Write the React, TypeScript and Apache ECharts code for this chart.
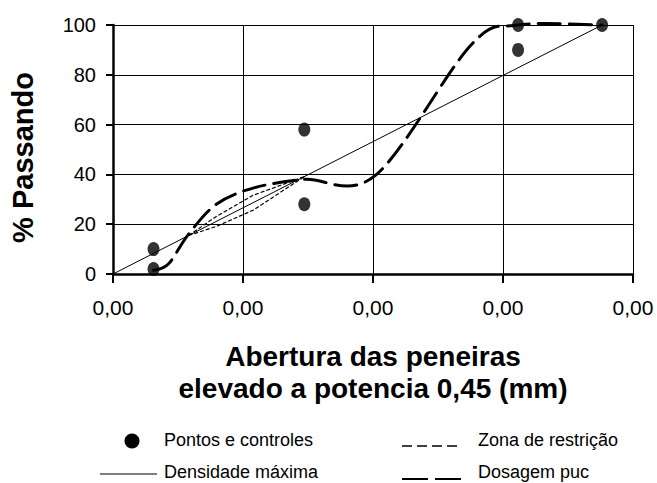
import React, { useEffect, useRef } from "react";
import * as echarts from "echarts";

// Sieve openings (mm) and percent passing; x axis is opening ^ 0.45
const sieveSizes = [0.075, 0.15, 0.3, 0.6, 1.18, 2.36, 4.75, 9.5, 12.5, 19];
const dosagemPuc = [1.5, 4, 16, 28, 34.5, 38, 39.5, 92, 100, 100];

const controlSieves = [0.075, 0.075, 2.36, 2.36, 12.5, 12.5, 19];
const controlValues = [2, 10, 28, 58, 90, 100, 100];

const restrictionSieves = [0.3, 0.6, 1.18, 2.36];
const restrictionUpper = [15.5, 23.1, 31.6, 39.1];
const restrictionLower = [15.5, 19.1, 25.6, 39.1];

const maxDensitySieves = [0, 19];
const maxDensityValues = [0, 100];

const xTickLabels = ["0,00", "0,00", "0,00", "0,00", "0,00"];
const yTickStep = 20;

const EXPONENT = 0.45;
const toX = (s: number) => Math.pow(s, EXPONENT);
const pairs = (sizes: number[], values: number[]) =>
  sizes.map((s, i) => [toX(s), values[i]]);

const FONT = "'Liberation Sans', Arial, sans-serif";

const dosagePoints = pairs(sieveSizes, dosagemPuc);

// Spreadsheet-style smoothed curve: cubic Bezier segments whose control
// points follow the Catmull-Rom tangents, computed in pixel space.
function smoothPath(pts: number[][]): string {
  const n = pts.length;
  let d = `M${pts[0][0]},${pts[0][1]}`;
  for (let i = 0; i < n - 1; i++) {
    const p0 = pts[Math.max(i - 1, 0)];
    const p1 = pts[i];
    const p2 = pts[i + 1];
    const p3 = pts[Math.min(i + 2, n - 1)];
    const c1x = p1[0] + (p2[0] - p0[0]) / 6;
    const c1y = p1[1] + (p2[1] - p0[1]) / 6;
    const c2x = p2[0] - (p3[0] - p1[0]) / 6;
    const c2y = p2[1] - (p3[1] - p1[1]) / 6;
    d += ` C${c1x},${c1y} ${c2x},${c2y} ${p2[0]},${p2[1]}`;
  }
  return d;
}

export default function App() {
  const ref = useRef<HTMLDivElement>(null);

  useEffect(() => {
    if (!ref.current) return;
    const chart = echarts.init(ref.current, undefined, { renderer: "svg" });

    const restrictionStyle = { color: "#000", width: 1.2, type: [4, 2] as number[] };

    chart.setOption({
      animation: false,
      backgroundColor: "#fff",
      textStyle: { fontFamily: FONT },
      grid: { left: 113, right: 24, top: 25, bottom: 209, containLabel: false },
      xAxis: {
        type: "value",
        min: 0,
        max: 4,
        interval: 1,
        name: "Abertura das peneiras\nelevado a potencia 0,45 (mm)",
        nameLocation: "middle",
        nameGap: 66,
        nameTextStyle: {
          fontSize: 28,
          fontWeight: "bold",
          fontFamily: FONT,
          color: "#000",
          lineHeight: 32,
        },
        axisLine: { show: true, onZero: false, lineStyle: { color: "#000", width: 2.5 } },
        axisTick: { show: true, length: 9, lineStyle: { color: "#000", width: 2 } },
        splitLine: { show: true, lineStyle: { color: "#000", width: 1 } },
        axisLabel: {
          fontSize: 21,
          color: "#000",
          fontFamily: FONT,
          margin: 23,
          formatter: (_v: number, i: number) => xTickLabels[i] ?? "",
        },
      },
      yAxis: {
        type: "value",
        min: 0,
        max: 100,
        interval: yTickStep,
        name: "% Passando",
        nameLocation: "middle",
        nameGap: 76,
        nameTextStyle: {
          fontSize: 29,
          fontWeight: "bold",
          fontFamily: FONT,
          color: "#000",
          padding: [0, 16, 0, 0],
        },
        axisLine: { show: true, lineStyle: { color: "#000", width: 2.5 } },
        axisTick: { show: true, length: 7, lineStyle: { color: "#000", width: 2 } },
        splitLine: { show: true, lineStyle: { color: "#000", width: 1 } },
        axisLabel: { fontSize: 20, color: "#000", fontFamily: FONT, margin: 17 },
      },
      series: [
        {
          name: "Densidade máxima",
          type: "line",
          data: pairs(maxDensitySieves, maxDensityValues),
          symbol: "none",
          lineStyle: { color: "#000", width: 1 },
          z: 2,
        },
        {
          name: "Zona de restrição",
          type: "line",
          data: pairs(restrictionSieves, restrictionUpper),
          symbol: "none",
          lineStyle: restrictionStyle,
          z: 3,
        },
        {
          name: "Zona de restrição",
          type: "line",
          data: pairs(restrictionSieves, restrictionLower),
          symbol: "none",
          lineStyle: restrictionStyle,
          z: 3,
        },
        {
          name: "Dosagem puc",
          type: "custom",
          coordinateSystem: "cartesian2d",
          data: dosagePoints,
          encode: { x: 0, y: 1 },
          z: 4,
          renderItem: (params: any, api: any) => {
            if (params.dataIndex !== 0) return null;
            const px = dosagePoints.map((p) => api.coord(p));
            return {
              type: "path",
              shape: { pathData: smoothPath(px) },
              style: {
                fill: "none",
                stroke: "#000",
                lineWidth: 3,
                lineDash: [22, 9],
                lineCap: "round",
              },
            };
          },
        },
        {
          name: "Pontos e controles",
          type: "scatter",
          data: pairs(controlSieves, controlValues),
          symbol: "circle",
          symbolSize: [12, 14],
          itemStyle: { color: "#000" },
          z: 5,
        },
      ],
      graphic: [
        { type: "circle", shape: { cx: 132, cy: 441, r: 7.5 }, style: { fill: "#000" } },
        {
          type: "text",
          x: 164,
          y: 440,
          style: { text: "Pontos e controles", font: `18px ${FONT}`, fill: "#000", verticalAlign: "middle" },
        },
        { type: "line", shape: { x1: 100, y1: 474, x2: 157, y2: 474 }, style: { stroke: "#000", lineWidth: 1 } },
        {
          type: "text",
          x: 164,
          y: 472,
          style: { text: "Densidade máxima", font: `18px ${FONT}`, fill: "#000", verticalAlign: "middle" },
        },
        {
          type: "line",
          shape: { x1: 402, y1: 446, x2: 460, y2: 446 },
          style: { stroke: "#000", lineWidth: 1.5, lineDash: [10, 5] },
        },
        {
          type: "text",
          x: 478,
          y: 440,
          style: { text: "Zona de restrição", font: `18px ${FONT}`, fill: "#000", verticalAlign: "middle" },
        },
        {
          type: "line",
          shape: { x1: 402, y1: 479, x2: 462, y2: 479 },
          style: { stroke: "#000", lineWidth: 2, lineDash: [26, 7] },
        },
        {
          type: "text",
          x: 478,
          y: 472,
          style: { text: "Dosagem puc", font: `18px ${FONT}`, fill: "#000", verticalAlign: "middle" },
        },
      ],
    });

    return () => chart.dispose();
  }, []);

  return (
    <div
      ref={ref}
      style={{ position: "fixed", left: 0, top: 0, width: 657, height: 483, background: "#fff" }}
    />
  );
}
